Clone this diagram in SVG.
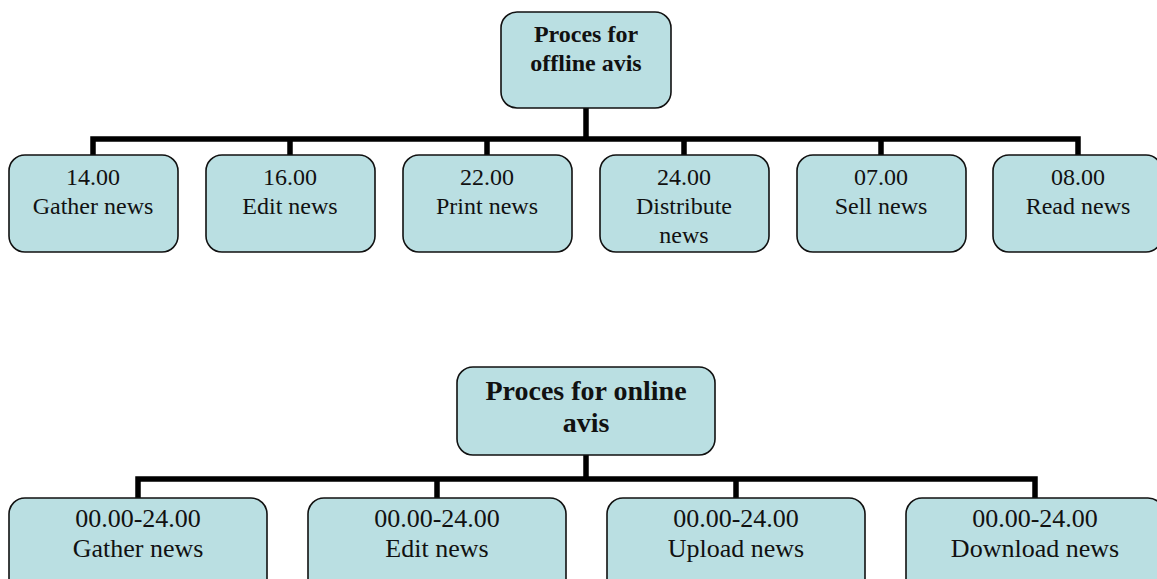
<svg xmlns="http://www.w3.org/2000/svg" width="1157" height="579" viewBox="0 0 1157 579">
<style>
.box{fill:#badfe2;stroke:#111;stroke-width:1.6}
.t{font-family:"Liberation Serif","Times New Roman",serif;fill:#111;text-anchor:middle}
.c{font-size:24px}
.c2{font-size:26px}
.r1{font-size:24px;font-weight:bold}
.r2{font-size:28px;font-weight:bold}
.ln{stroke:#000;stroke-width:5.5;fill:none}
</style>
<rect width="1157" height="579" fill="#fff"/>
<g id="connectors">
<path class="ln" d="M586 108V139M93 155V139H1078V155M290 139V155M487 139V155M684 139V155M881 139V155"/>
<path class="ln" d="M586 455V479M138 498V479H1035V498M437 479V498M736 479V498"/>
</g>
<g id="root-offline"><rect class="box" x="501" y="12" width="170" height="96" rx="16"/>
<text class="t r1" x="586" y="42">Proces for</text><text class="t r1" x="586" y="71">offline avis</text></g>
<g id="n1"><rect class="box" x="9" y="155" width="169" height="97" rx="16"/><text class="t c" x="93" y="185">14.00</text><text class="t c" x="93" y="214">Gather news</text></g>
<g id="n2"><rect class="box" x="206" y="155" width="169" height="97" rx="16"/><text class="t c" x="290" y="185">16.00</text><text class="t c" x="290" y="214">Edit news</text></g>
<g id="n3"><rect class="box" x="403" y="155" width="169" height="97" rx="16"/><text class="t c" x="487" y="185">22.00</text><text class="t c" x="487" y="214">Print news</text></g>
<g id="n4"><rect class="box" x="600" y="155" width="169" height="97" rx="16"/><text class="t c" x="684" y="185">24.00</text><text class="t c" x="684" y="214">Distribute</text><text class="t c" x="684" y="243">news</text></g>
<g id="n5"><rect class="box" x="797" y="155" width="169" height="97" rx="16"/><text class="t c" x="881" y="185">07.00</text><text class="t c" x="881" y="214">Sell news</text></g>
<g id="n6"><rect class="box" x="993" y="155" width="169" height="97" rx="16"/><text class="t c" x="1078" y="185">08.00</text><text class="t c" x="1078" y="214">Read news</text></g>
<g id="root-online"><rect class="box" x="457" y="367" width="258" height="88" rx="16"/>
<text class="t r2" x="586" y="400">Proces for online</text><text class="t r2" x="586" y="432">avis</text></g>
<g id="m1"><rect class="box" x="9" y="498" width="258" height="100" rx="16"/><text class="t c2" x="138" y="527">00.00-24.00</text><text class="t c2" x="138" y="557">Gather news</text></g>
<g id="m2"><rect class="box" x="308" y="498" width="258" height="100" rx="16"/><text class="t c2" x="437" y="527">00.00-24.00</text><text class="t c2" x="437" y="557">Edit news</text></g>
<g id="m3"><rect class="box" x="607" y="498" width="258" height="100" rx="16"/><text class="t c2" x="736" y="527">00.00-24.00</text><text class="t c2" x="736" y="557">Upload news</text></g>
<g id="m4"><rect class="box" x="906" y="498" width="258" height="100" rx="16"/><text class="t c2" x="1035" y="527">00.00-24.00</text><text class="t c2" x="1035" y="557">Download news</text></g>
</svg>
